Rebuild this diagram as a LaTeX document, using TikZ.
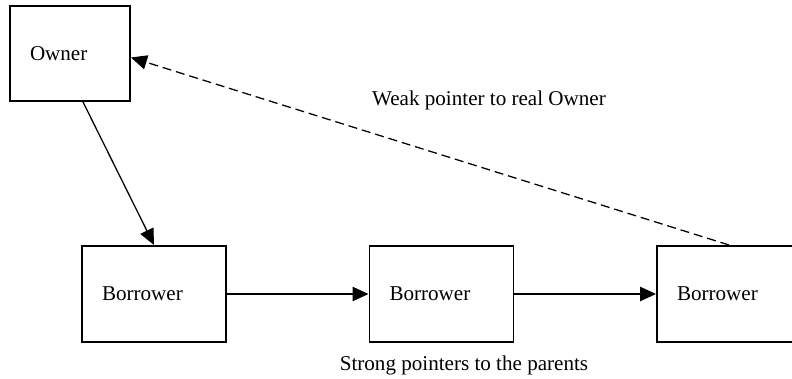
\documentclass[tikz,border=0pt]{standalone}
\usepackage{fontspec}
\setmainfont{Liberation Serif}
\usetikzlibrary{arrows.meta}

\begin{document}
\begin{tikzpicture}[
  objbox/.style={draw,line width=1.4pt,inner xsep=0.5cm,align=left,
    font=\fontsize{15}{18}\selectfont},
  ptr/.style={line width=0.9pt,-{Triangle[length=0.4cm,width=0.36cm]}},
  lbl/.style={font=\fontsize{15}{18}\selectfont}]
\useasboundingbox (0,0) rectangle (19.8,9.475);
\clip (0,0) rectangle (19.8,9.475);
% objects
\node[objbox,text width=2cm,minimum height=2.375cm] (owner) at (1.75,8.1375) {Owner};
\node[objbox,text width=2.6cm,minimum height=2.4cm] (b1) at (3.85,2.125) {Borrower};
\node[objbox,text width=2.6cm,minimum height=2.4cm] (b2) at (11.0375,2.125) {Borrower};
\node[objbox,text width=2.6cm,minimum height=2.4cm] (b3) at (18.225,2.125) {Borrower};
% strong pointers
\draw[ptr] ([xshift=0.325cm]owner.south) -- (b1.north);
\draw[ptr] (b1.east) -- (b2.west);
\draw[ptr] (b2.east) -- (b3.west);
\node[lbl] (strong) at (11.6,0.35) {Strong pointers to the parents};
% weak pointer
\draw[ptr,dash pattern=on 6.4pt off 3.5pt] (b3.north) -- ([yshift=-0.1cm]owner.east);
\node[lbl] (weak) at (12.225,6.975) {Weak pointer to real Owner};
\end{tikzpicture}
\end{document}
